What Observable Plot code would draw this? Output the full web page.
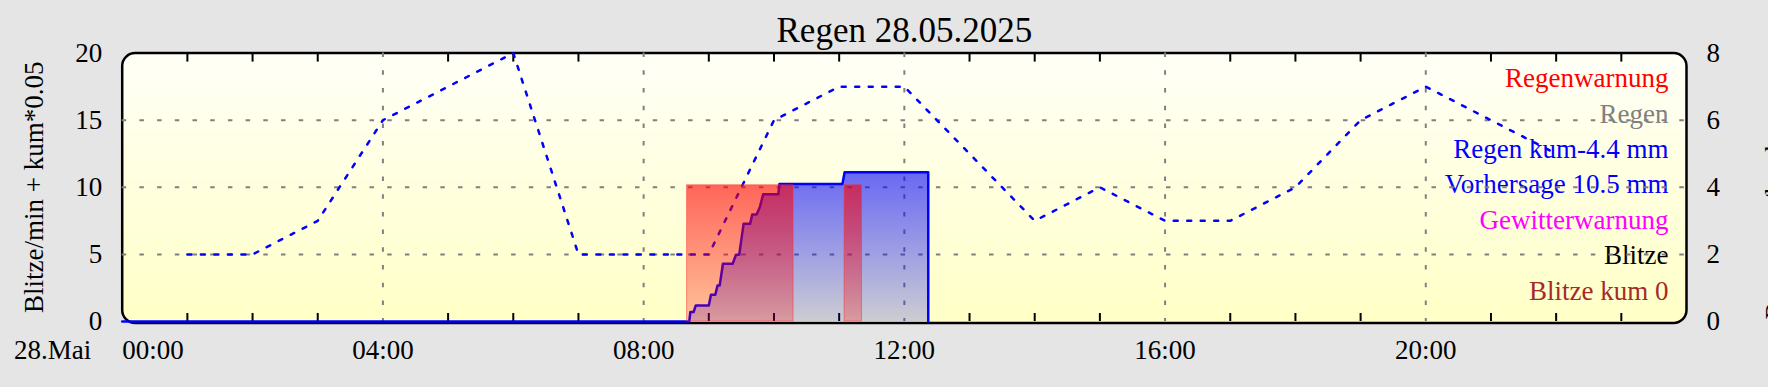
<!DOCTYPE html>
<html>
<head>
<meta charset="utf-8">
<script src="https://cdn.jsdelivr.net/npm/d3@7"></script>
<script src="https://cdn.jsdelivr.net/npm/@observablehq/plot@0.6"></script>
<style>
  html, body { margin: 0; padding: 0; background: #e5e5e5; overflow: hidden; }
  #chart svg { display: block; }
</style>
</head>
<body>
<div id="chart"></div>
<script>
// ---------- data ----------
const title = "Regen 28.05.2025";
const dayLabel = "28.Mai";
const leftAxisLabel = "Blitze/min + kum*0.05";
const rightAxisLabel = "Regen mm/h + kum mm";
const dayDate = "2025-05-28";

const leftTicks = [0, 5, 10, 15, 20];
const rightTicks = [0, 2, 4, 6, 8];
const rightScale = 2.5;           // right axis unit -> left axis unit
const timeLabels = ["00:00", "04:00", "08:00", "12:00", "16:00", "20:00"];
const minorTickTimes = ["01:00","02:00","03:00","05:00","06:00","07:00","09:00","10:00","11:00",
  "13:00","14:00","15:00","17:00","18:00","19:00","21:00","22:00","23:00"];

// forecast (Vorhersage), right-axis units
const forecastTimes = ["01:00","02:00","03:00","04:00","05:00","06:00","07:00","08:00","09:00","10:00","11:00",
  "12:00","13:00","14:00","15:00","16:00","17:00","18:00","19:00","20:00","21:00","22:00"];
const forecastValues = [2, 2, 3, 6, 7, 8, 2, 2, 2, 6, 7, 7, 5, 3, 4, 3, 3, 4, 6, 7, 6, 5];

// cumulative rain (Regen kum), mm, right-axis units
const rainTimes = ["00:00","08:42","08:43","08:46","08:48","09:00","09:02","09:06","09:08","09:10","09:13",
  "09:22","09:25","09:28","09:32","09:38","09:40","09:44","09:47","09:50","10:04","10:05","11:03","11:05","12:22","12:22"];
const rainValues = [0, 0, 0.28, 0.28, 0.48, 0.48, 0.80, 0.80, 1.07, 1.07, 1.72,
  1.72, 1.99, 1.99, 2.91, 2.91, 3.19, 3.19, 3.41, 3.79, 3.79, 4.10, 4.10, 4.45, 4.45, 0];

// rain warnings (Regenwarnung), left-axis level
const warnStart = ["08:40", "11:05"];
const warnEnd = ["10:18", "11:21"];
const warnLevel = [10.15, 10.15];

const legendLabels = ["Regenwarnung", "Regen", "Regen kum-4.4 mm", "Vorhersage 10.5 mm", "Gewitterwarnung", "Blitze", "Blitze kum 0"];
const legendColors = ["#ff0000", "#808080", "#0000ff", "#0000ff", "#ff00ff", "#000000", "#a52a2a"];

// ---------- helpers ----------
const parseT = (t) => t === "24:00" ? new Date(Date.UTC(2025, 4, 29)) : d3.utcParse("%Y-%m-%d %H:%M")(dayDate + " " + t);
const fmt = d3.utcFormat("%H:%M");

const forecast = forecastTimes.map((t, i) => ({t: parseT(t), v: forecastValues[i] * rightScale}));
const rain = rainTimes.map((t, i) => ({t: parseT(t), v: rainValues[i] * rightScale, b: 0}));
const warnings = warnStart.map((s, i) => ({t1: parseT(s), t2: parseT(warnEnd[i]), v: warnLevel[i], b: 0}));
const labelDates = timeLabels.map(parseT);
const minorDates = minorTickTimes.map(parseT);
const gridDates = labelDates.slice(1);

const defs = () => {
  const d = d3.create("svg:defs");
  const mk = (id, stops) => {
    const g = d.append("linearGradient").attr("id", id)
      .attr("x1", 0).attr("y1", 0).attr("x2", 0).attr("y2", 1);
    stops.forEach(([o, c, a]) => g.append("stop").attr("offset", o).attr("stop-color", c).attr("stop-opacity", a));
  };
  mk("bgGrad", [["0%", "#fffff8", 1], ["100%", "#ffffc6", 1]]);
  mk("rainGrad", [["0%", "#0000ff", 0.59], ["100%", "#0000ff", 0.2]]);
  mk("warnGrad", [["0%", "#ff0000", 0.6], ["100%", "#ff0000", 0.24]]);
  return d.node();
};

const FS = 27;
const legendMarks = legendLabels.map((t, i) => Plot.text([t], {
  text: d => d, frameAnchor: "top-right", dx: -18, dy: 25.5 + i * 35.4,
  textAnchor: "end", lineAnchor: "middle", fill: legendColors[i], fontSize: FS
}));

const chart = Plot.plot({
  width: 1768,
  height: 387,
  marginTop: 52.6,
  marginBottom: 66,
  marginLeft: 121.7,
  marginRight: 82,
  style: {fontFamily: "'Liberation Serif', 'Times New Roman', serif", fontSize: "27px", background: "transparent", color: "#000"},
  x: {type: "utc", domain: [parseT("00:00"), parseT("24:00")], label: null},
  y: {domain: [0, 20], label: null},
  marks: [
    defs,
    Plot.frame({fill: "url(#bgGrad)", stroke: "#000", strokeWidth: 2.5, rx: 13, insetBottom: -1.5}),
    Plot.axisX(minorDates, {anchor: "bottom", tickSize: -8, stroke: "#000", strokeWidth: 2, fill: "none", label: null}),
    Plot.axisX(minorDates, {anchor: "top", tickSize: -8, stroke: "#000", strokeWidth: 2, fill: "none", label: null}),
    ...legendMarks,
    Plot.gridY(leftTicks.slice(1, -1), {stroke: "#808080", strokeOpacity: 1, strokeWidth: 2, strokeDasharray: "4.5,13.2"}),
    Plot.gridX(gridDates, {stroke: "#808080", strokeOpacity: 1, strokeWidth: 2, strokeDasharray: "4.5,13.2"}),
    Plot.lineY(forecast, {x: "t", y: "v", stroke: "#0000ff", strokeWidth: 2.5, strokeDasharray: "4,9.5"}),
    Plot.areaY(rain, {x: "t", y1: "b", y2: "v", fill: "url(#rainGrad)"}),
    Plot.lineY(rain, {x: "t", y: "v", stroke: "#0000ff", strokeWidth: 2.5}),
    Plot.rect(warnings, {x1: "t1", x2: "t2", y1: "b", y2: "v", fill: "url(#warnGrad)", stroke: "#ff3030", strokeOpacity: 0.5, strokeWidth: 1}),
    Plot.axisY(leftTicks, {anchor: "left", tickSize: 0, tickPadding: 20, fontSize: FS, label: null}),
    Plot.axisY(rightTicks.map(v => v * rightScale), {anchor: "right", tickSize: 0, tickPadding: 20, fontSize: FS, label: null, tickFormat: d => String(d / rightScale)}),
    Plot.axisX(labelDates.slice(0, 1), {anchor: "bottom", tickSize: 0, tickPadding: 18, textAnchor: "start", fontSize: FS, label: null, tickFormat: fmt}),
    Plot.axisX(labelDates.slice(1), {anchor: "bottom", tickSize: 0, tickPadding: 18, fontSize: FS, label: null, tickFormat: fmt}),
    Plot.text([dayLabel], {text: d => d, frameAnchor: "bottom-left", dx: -31, dy: 18, textAnchor: "end", lineAnchor: "top", fontSize: FS}),
    Plot.text([leftAxisLabel], {text: d => d, frameAnchor: "left", rotate: -90, dx: -98.6, lineAnchor: "top", textAnchor: "middle", fontSize: FS}),
    Plot.text([rightAxisLabel], {text: d => d, frameAnchor: "right", rotate: -90, dx: 78.5, lineAnchor: "top", textAnchor: "middle", fontSize: FS}),
    Plot.text([title], {text: d => d, frameAnchor: "top", dy: -22, lineAnchor: "middle", fontSize: 35})
  ]
});
document.getElementById("chart").appendChild(chart);
</script>
</body>
</html>
